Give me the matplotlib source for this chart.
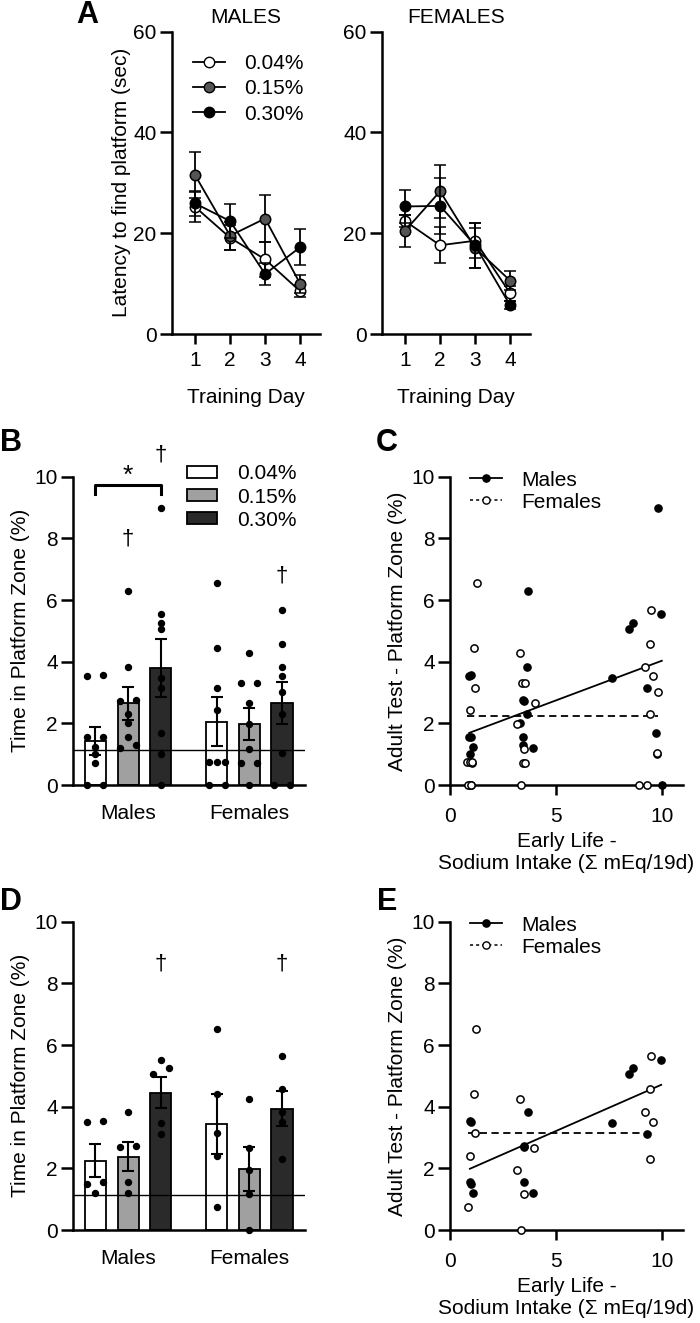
import numpy as np
import matplotlib
matplotlib.use("Agg")
import matplotlib.pyplot as plt
from matplotlib.patches import Patch
from matplotlib.lines import Line2D

plt.rcParams['font.family'] = ['Liberation Sans', 'DejaVu Sans']
plt.rcParams['font.size'] = 15

doses = ['0.04%', '0.15%', '0.30%']
sexes = ['Males', 'Females']
days = [1, 2, 3, 4]

# panel A - latency (sec), rows = dose
male_latency = [[25.2, 19.1, 14.8, 8.5], [31.5, 19.5, 22.9, 10.0], [25.9, 22.4, 11.9, 17.2]]
male_latency_sem = [[3.0, 2.5, 3.5, 1.2], [4.6, 2.8, 4.6, 1.8], [2.5, 3.3, 2.2, 3.6]]
female_latency = [[22.4, 17.6, 18.5, 8.1], [20.5, 28.3, 17.1, 10.6], [25.3, 25.4, 17.6, 5.7]]
female_latency_sem = [[1.2, 3.6, 3.5, 1.5], [3.2, 5.2, 4.0, 1.9], [3.3, 5.5, 4.5, 0.8]]

# panels B/C - all animals, 9 per dose (0.04, 0.15, 0.30)
c_male_zone = [3.53, 3.57, 1.57, 1.55, 1.22, 1.0, 0.72, 0, 0,
               6.3, 3.83, 2.75, 2.72, 2.3, 2.0, 1.55, 1.3, 1.2,
               9.0, 5.56, 5.25, 5.05, 3.46, 3.15, 1.7, 1.0, 0]
c_male_intake = [0.91, 0.97, 0.91, 1.0, 1.08, 0.96, 1.02, 0.94, 1.0,
                 3.7, 3.65, 3.43, 3.5, 3.65, 3.31, 3.46, 3.46, 3.9,
                 9.83, 9.97, 8.62, 8.43, 7.64, 9.29, 9.73, 9.76, 10.0]
c_female_zone = [6.54, 4.43, 3.15, 2.43, 0.76, 0.76, 0.76, 0, 0,
                 4.27, 3.3, 3.3, 2.65, 1.97, 1.16, 0.7, 0.7, 0,
                 5.67, 4.57, 3.83, 3.53, 3.02, 2.3, 1.03, 0, 0]
c_female_intake = [1.26, 1.15, 1.18, 0.94, 0.81, 0.95, 1.05, 0.85, 0.98,
                   3.32, 3.4, 3.53, 4.0, 3.17, 3.5, 3.45, 3.55, 3.35,
                   9.5, 9.42, 9.22, 9.6, 9.8, 9.43, 9.76, 8.93, 9.3]
b_male_mean = [1.43, 2.65, 3.78]
b_male_sem = [0.45, 0.53, 0.94]
b_female_mean = [2.05, 1.98, 2.65]
b_female_sem = [0.79, 0.51, 0.68]

# panels D/E - subset, 5 per dose
e_male_zone = [3.53, 3.49, 1.57, 1.5, 1.2,
               3.83, 2.72, 2.7, 1.55, 1.2,
               5.53, 5.24, 5.06, 3.46, 3.13]
e_male_intake = [0.94, 0.97, 0.94, 0.98, 1.08,
                 3.67, 3.47, 3.5, 3.47, 3.9,
                 9.97, 8.62, 8.43, 7.67, 9.29]
e_female_zone = [6.52, 4.41, 3.15, 2.4, 0.76,
                 4.25, 2.65, 1.94, 1.16, 0,
                 5.65, 4.56, 3.83, 3.51, 2.3]
e_female_intake = [1.23, 1.15, 1.18, 0.94, 0.85,
                   3.31, 3.98, 3.15, 3.5, 3.35,
                   9.5, 9.42, 9.22, 9.6, 9.43]
d_male_mean = [2.25, 2.38, 4.45]
d_male_sem = [0.53, 0.48, 0.5]
d_female_mean = [3.44, 1.98, 3.94]
d_female_sem = [0.97, 0.72, 0.57]

chance_level = 1.13

line_colors = ['white', '#555555', 'black']
bar_colors = ['white', '#a0a0a0', '#2a2a2a']
LW = 1.8
FS = 15


def style(ax):
    ax.spines['top'].set_visible(False)
    ax.spines['right'].set_visible(False)
    ax.spines['left'].set_linewidth(LW)
    ax.spines['bottom'].set_linewidth(LW)
    ax.tick_params(width=LW, labelsize=FS)
    ax.tick_params(axis='y', length=9, pad=2)
    ax.tick_params(axis='x', length=7, pad=3)


def spread(vals, tol=0.2, s=0.066):
    vals = np.asarray(vals, dtype=float)
    order = np.argsort(vals)
    offs = np.zeros(len(vals))
    clusters = [[order[0]]]
    for i in order[1:]:
        if vals[i] - vals[clusters[-1][-1]] < tol:
            clusters[-1].append(i)
        else:
            clusters.append([i])
    for c in clusters:
        if len(c) > 1:
            for j, o in zip(c, np.linspace(-s, s, len(c))):
                offs[j] = o
    return offs


fig = plt.figure(figsize=(7, 13.23), dpi=100)
H = 1323.0
W = 700.0


def px_axes(x0, x1, ytop, ybot):
    return fig.add_axes([x0 / W, 1 - ybot / H, (x1 - x0) / W, (ybot - ytop) / H])


# ---------- A ----------
for k, (lat, sem, title, x0) in enumerate([(male_latency, male_latency_sem, 'MALES', 172),
                                             (female_latency, female_latency_sem, 'FEMALES', 382)]):
    ax = px_axes(x0, x0 + 148, 31.5, 334)
    style(ax)
    for i in range(3):
        ax.errorbar(days, lat[i], yerr=sem[i], color='black', lw=1.3, capsize=4, capthick=1.3,
                    marker='o', ms=7.5, mfc=line_colors[i], mec='black', mew=1.1, zorder=3 + i,
                    label=doses[i])
    ax.set_xlim(0.34, 4.57)
    ax.set_ylim(0, 60)
    ax.set_yticks([0, 20, 40, 60])
    ax.set_xticks(days)
    ax.tick_params(axis='x', pad=5)
    ax.set_xlabel('Training Day', fontsize=FS, labelpad=13)
    ax.set_title(title, fontsize=FS, pad=6)
    if k == 0:
        ax.set_ylabel('Latency to find platform (sec)', fontsize=FS, labelpad=2)
        handles = [Line2D([], [], color='black', lw=1.3, marker='o', ms=7.5, mfc=c, mec='black')
                   for c in line_colors]
        ax.legend(handles, doses, loc='upper left', bbox_to_anchor=(0.14, 0.925), frameon=False,
                  fontsize=FS, handlelength=1.55, handletextpad=0.9, labelspacing=0.3,
                  borderaxespad=0, borderpad=0)


# ---------- B / D ----------
def bar_panel(ax, male_pts, female_pts, male_mean, male_sem, female_mean, female_sem):
    style(ax)
    width = 0.175
    step = 0.27
    groups = [(0, male_pts, male_mean, male_sem), (1, female_pts, female_mean, female_sem)]
    for g, pts, mean, sem in groups:
        pts = np.asarray(pts, dtype=float).reshape(3, -1)
        for i in range(3):
            xc = g + (i - 1) * step
            ax.bar(xc, mean[i], width=width, color=bar_colors[i], edgecolor='black', lw=1.3, zorder=2)
            ax.errorbar(xc, mean[i], yerr=sem[i], color='black', lw=1.5, capsize=4, capthick=1.5,
                        zorder=4)
            ax.plot(xc + spread(pts[i]), pts[i], 'o', color='black', ms=4.3, zorder=5, clip_on=False)
    ax.axhline(chance_level, color='black', lw=1.0, zorder=3)
    ax.set_xlim(-0.455, 1.46)
    ax.set_ylim(0, 10)
    ax.set_yticks([0, 2, 4, 6, 8, 10])
    ax.set_xticks([0, 1])
    ax.set_xticklabels(sexes, fontsize=FS)
    ax.tick_params(axis='x', length=0, pad=14)
    ax.set_ylabel('Time in Platform Zone (%)', fontsize=FS, labelpad=3)


axB = px_axes(73, 305, 476.7, 785)
bar_panel(axB, c_male_zone, c_female_zone, b_male_mean, b_male_sem, b_female_mean, b_female_sem)
# significance bracket
axB.plot([-0.27, -0.27, 0.27, 0.27], [9.45, 9.72, 9.72, 9.45], color='black', lw=2.2, clip_on=False)
axB.text(0.0, 9.65, '*', ha='center', va='bottom', fontsize=19)
for xd, yd in [(0.0, 7.65), (0.27, 10.35), (1.27, 6.45)]:
    axB.text(xd, yd, '\u2020', ha='center', va='bottom', fontsize=16)
axB.legend([Patch(facecolor=c, edgecolor='black', lw=1.3) for c in bar_colors], doses,
           loc='upper left', bbox_to_anchor=(0.49, 1.04), frameon=False, fontsize=FS,
           handlelength=1.45, handleheight=0.5, handletextpad=0.95, labelspacing=0.2,
           borderaxespad=0, borderpad=0)

axD = px_axes(73, 305, 921.7, 1230)
bar_panel(axD, e_male_zone, e_female_zone, d_male_mean, d_male_sem, d_female_mean, d_female_sem)
for xd, yd in [(0.27, 8.3), (1.27, 8.3)]:
    axD.text(xd, yd, '\u2020', ha='center', va='bottom', fontsize=16)


# ---------- C / E ----------
def scatter_panel(ax, mx, my, fx, fy):
    style(ax)
    mx, my, fx, fy = map(lambda a: np.asarray(a, dtype=float), (mx, my, fx, fy))
    ax.plot(mx, my, 'o', color='black', ms=5.2, zorder=4, clip_on=False)
    ax.plot(fx, fy, 'o', mfc='white', mec='black', mew=1.1, ms=5.2, zorder=4, clip_on=False)
    slope, icpt = np.polyfit(mx, my, 1)
    xs = np.array([mx.min(), mx.max()])
    ax.plot(xs, icpt + slope * xs, color='black', lw=1.3, zorder=3)
    ax.plot([fx.min(), fx.max()], [fy.mean()] * 2, color='black', lw=1.3, ls=(0, (4, 2.5)), zorder=3)
    ax.set_xlim(0, 11)
    ax.set_ylim(0, 10)
    ax.set_xticks([0, 5, 10])
    ax.set_yticks([0, 2, 4, 6, 8, 10])
    ax.tick_params(axis='x', pad=9)
    ax.set_xlabel('Early Life -\nSodium Intake (\u03a3 mEq/19d)', fontsize=FS, labelpad=4,
                  linespacing=1.22)
    ax.set_ylabel('Adult Test - Platform Zone (%)', fontsize=FS, labelpad=3)
    handles = [Line2D([], [], color='black', lw=1.3, marker='o', ms=5.2),
               Line2D([], [], color='black', lw=1.1, ls=(0, (2, 2)), marker='o', ms=5.2, mfc='white')]
    ax.legend(handles, sexes, loc='upper left', bbox_to_anchor=(0.085, 1.02), frameon=False,
              fontsize=FS, handlelength=1.55, handletextpad=0.9, labelspacing=0.15,
              borderaxespad=0, borderpad=0)


axC = px_axes(450, 683, 476.7, 785)
scatter_panel(axC, c_male_intake, c_male_zone, c_female_intake, c_female_zone)
axE = px_axes(450, 683, 921.7, 1230)
scatter_panel(axE, e_male_intake, e_male_zone, e_female_intake, e_female_zone)

# panel letters
for lab, x, y in [('A', 87, 15), ('B', 11, 443), ('C', 387, 443), ('D', 11, 902), ('E', 387, 902)]:
    fig.text(x / W, 1 - y / H, lab, fontsize=22, fontweight='bold', ha='center', va='center')

fig.savefig('out.png', dpi=100)
